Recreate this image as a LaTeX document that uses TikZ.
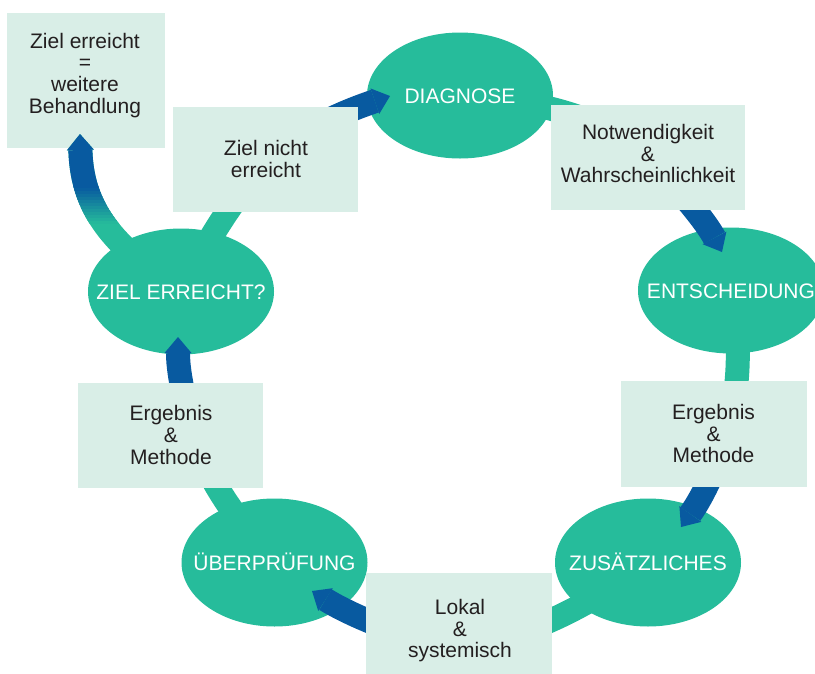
\documentclass[tikz,border=0pt]{standalone}
\usepackage{fontspec}
\setmainfont{Liberation Sans}
\usetikzlibrary{arrows.meta,shapes.geometric}
\definecolor{bteal}{RGB}{38,188,155}
\definecolor{bblue}{RGB}{8,90,160}
\definecolor{boxfill}{RGB}{217,238,231}
\definecolor{txt}{RGB}{35,31,32}
\pgfdeclarelayer{bottom}
\pgfdeclarelayer{under}
\pgfsetlayers{bottom,under,main}
\tikzset{
  ell/.style={ellipse, fill=bteal, minimum width=186pt, minimum height=126pt,
    inner xsep=-30pt, inner ysep=0pt,
    text=white, font=\fontsize{21}{22}\selectfont, text height=15pt, text depth=0pt},
  boxr/.style={rectangle, fill=boxfill, inner sep=0pt},
  lbl/.style={align=center, text=txt, font=\fontsize{21}{21.7}\selectfont, inner sep=0pt, text depth=0pt},
  band/.style={line width=24pt},
  headed/.style={-{Triangle[length=16pt,width=27pt,line width=0pt]}},
}
\begin{document}
\begin{tikzpicture}[x=1pt,y=-1pt]
\useasboundingbox (0,0) rectangle (815,673);

% ellipses
\node[ell] (diag) at (460,95.5) {DIAGNOSE};
\node[ell] (ent)  at (731,290.5) {ENTSCHEIDUNG};
\node[ell, minimum height=128pt] (zus)  at (648,562.5) {ZUSÄTZLICHES};
\node[ell, minimum height=128pt] (uber) at (274.5,562.5) {ÜBERPRÜFUNG};
\node[ell] (ziel) at (181,291.5) {ZIEL ERREICHT?};

% join points (hidden behind boxes) and arrow tips
\coordinate (j1) at (648,157);
\coordinate (j2) at (725,434);
\coordinate (j3) at (459,643);
\coordinate (j4) at (195,435);
\coordinate (j5) at (275,155);
\coordinate (t1) at (722,252);
\coordinate (t2) at (681,527);
\coordinate (t3) at (312,591);
\coordinate (t4) at (178,337);
\coordinate (t5) at (390,96);
\coordinate (t6) at (80,134);

% goal box (below its arrow tip)
\begin{pgfonlayer}{bottom}
\node[boxr, minimum width=158pt, minimum height=135pt] (tlbox) at (86,80.5) {};
\end{pgfonlayer}

\begin{pgfonlayer}{under}
% teal beginnings of the cycle bands
\draw[band, bteal] (diag.center) .. controls (540,100) and (610,120) .. (j1);
\draw[band, bteal] (ent.center) .. controls (740,330) and (742,390) .. (j2);
\draw[band, bteal] (zus.center) .. controls (600,598) and (525,643) .. (j3);
\draw[band, bteal] (uber.center) .. controls (245,530) and (205,480) .. (j4);
\draw[band, bteal] (ziel.center) .. controls (200,255) and (235,190) .. (j5);
% gradient band to the goal box
\draw[band, headed, bteal] (ziel.center) .. controls (120,250) and (82,215) .. (t6);
\foreach \k in {0,...,11}{
  \pgfmathsetmacro{\ya}{223-3*\k}
  \pgfmathsetmacro{\yb}{\ya-3.6}
  \pgfmathtruncatemacro{\pc}{(\k+0.5)*100/12}
  \begin{scope}
    \clip (30,\ya) rectangle (170,\yb);
    \draw[band, headed, color=bblue!\pc!bteal] (ziel.center) .. controls (120,250) and (82,215) .. (t6);
  \end{scope}
}
\begin{scope}
  \clip (30,187.5) rectangle (170,100);
  \draw[band, headed, bblue] (ziel.center) .. controls (120,250) and (82,215) .. (t6);
\end{scope}
\end{pgfonlayer}

% blue ends of the cycle bands
\draw[band, headed, bblue] (j1) .. controls (675,185) and (705,220) .. (t1);
\draw[band, headed, bblue] (j2) .. controls (720,460) and (704,495) .. (t2);
\draw[band, headed, bblue] (j3) .. controls (410,643) and (345,612) .. (t3);
\draw[band, headed, bblue] (j4) .. controls (188,414) and (178,378) .. (t4);
\draw[band, headed, bblue] (j5) .. controls (310,124) and (355,108) .. (t5);

% label boxes
\node[boxr, minimum width=185pt, minimum height=105pt] (nwbox) at (265.5,159.5) {};
\node[boxr, minimum width=194pt, minimum height=105pt] (nebox) at (648,157.5) {};
\node[boxr, minimum width=186pt, minimum height=106pt] (ebox) at (714,434) {};
\node[boxr, minimum width=185pt, minimum height=105pt] (wbox) at (170.5,435.5) {};
\node[boxr, minimum width=186pt, minimum height=106pt] (sbox) at (459,626) {};

% texts
\node[lbl] (tltext) at (85,73) {Ziel erreicht\\=\\weitere\\Behandlung};
\node[lbl] (nwtext) at (266,159) {Ziel nicht\\erreicht};
\node[lbl] (netext) at (648,153.5) {Notwendigkeit\\\&\\Wahrscheinlichkeit};
\node[lbl] (etext) at (713.5,433.5) {Ergebnis\\\&\\Methode};
\node[lbl] (wtext) at (171,435) {Ergebnis\\\&\\Methode};
\node[lbl] (stext) at (460,628.5) {Lokal\\\&\\systemisch};
\end{tikzpicture}
\end{document}
